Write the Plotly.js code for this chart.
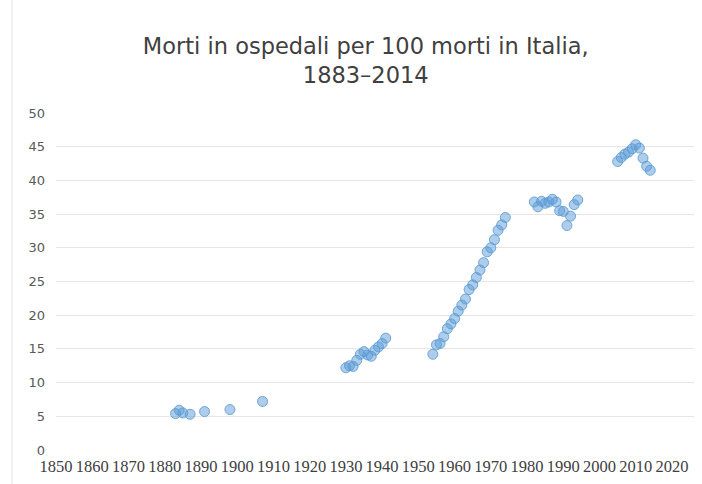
<!DOCTYPE html>
<html>
<head>
<meta charset="utf-8">
<script src="https://cdn.plot.ly/plotly-3.0.1.min.js"></script>
<style>html,body{margin:0;padding:0;background:#fff;}#chart{width:702px;height:484px;}</style>
</head>
<body>
<div id="chart"></div>
<script>
// Data
const years = [
  1883, 1884, 1885, 1887, 1891, 1898, 1907,
  1930, 1931, 1932, 1933, 1934, 1935, 1936, 1937, 1938, 1939, 1940, 1941,
  1954, 1955, 1956, 1957, 1958, 1959, 1960, 1961, 1962, 1963, 1964, 1965, 1966, 1967, 1968, 1969, 1970, 1971, 1972, 1973, 1974,
  1982, 1983, 1984, 1985, 1986, 1987, 1988, 1989, 1990, 1991, 1992, 1993, 1994,
  2005, 2006, 2007, 2008, 2009, 2010, 2011, 2012, 2013, 2014
];
const deathsInHospital = [
  5.4, 5.9, 5.5, 5.3, 5.7, 6.0, 7.2,
  12.2, 12.5, 12.4, 13.3, 14.2, 14.6, 14.1, 13.9, 14.8, 15.3, 15.8, 16.6,
  14.2, 15.6, 15.8, 16.8, 18.0, 18.7, 19.5, 20.6, 21.5, 22.4, 23.8, 24.5, 25.6, 26.7, 27.8, 29.4, 30.0, 31.2, 32.6, 33.4, 34.5,
  36.8, 36.1, 36.9, 36.6, 36.8, 37.2, 36.8, 35.5, 35.4, 33.3, 34.7, 36.4, 37.1,
  42.8, 43.4, 43.9, 44.2, 44.7, 45.3, 44.8, 43.3, 42.1, 41.5
];
const xTickVals = [1850,1860,1870,1880,1890,1900,1910,1920,1930,1940,1950,1960,1970,1980,1990,2000,2010,2020];
const yTickVals = [0,5,10,15,20,25,30,35,40,45,50];
const titleText = 'Morti in ospedali per 100 morti in Italia,<br>1883–2014';

const trace = {
  x: years,
  y: deathsInHospital,
  type: 'scatter',
  mode: 'markers',
  marker: {
    size: 10,
    color: 'rgba(91,155,213,0.5)',
    line: {color: 'rgba(91,155,213,0.85)', width: 1}
  },
  hoverinfo: 'x+y'
};

const layout = {
  width: 702,
  height: 484,
  paper_bgcolor: '#ffffff',
  plot_bgcolor: '#ffffff',
  margin: {l: 56, r: 8, t: 113, b: 34},
  showlegend: false,
  title: {
    text: titleText,
    font: {family: 'DejaVu Sans', size: 22.5, color: '#404040'},
    x: 0.521,
    xanchor: 'center',
    y: 0.889,
    yanchor: 'top'
  },
  xaxis: {
    range: [1850, 2026.07],
    tickmode: 'array',
    tickvals: xTickVals,
    ticktext: xTickVals.map(String),
    showgrid: false,
    zeroline: false,
    showline: false,
    ticks: '',
    tickangle: 0,
    ticklabelstandoff: 4,
    tickfont: {family: 'Liberation Serif', size: 16.5, color: '#404040'}
  },
  yaxis: {
    range: [0, 50],
    tickmode: 'array',
    tickvals: yTickVals,
    showgrid: true,
    gridcolor: '#e6e6e6',
    gridwidth: 1,
    zeroline: false,
    showline: false,
    ticks: '',
    ticklabelstandoff: 10,
    tickfont: {family: 'DejaVu Sans', size: 13, color: '#595959'}
  },
  shapes: [{
    type: 'line', xref: 'paper', yref: 'paper',
    x0: -0.069, x1: -0.069, y0: -0.101, y1: 1.336,
    line: {color: '#e3e3e3', width: 1}
  }]
};

Plotly.newPlot('chart', [trace], layout, {displayModeBar: false, staticPlot: true});
</script>
</body>
</html>
